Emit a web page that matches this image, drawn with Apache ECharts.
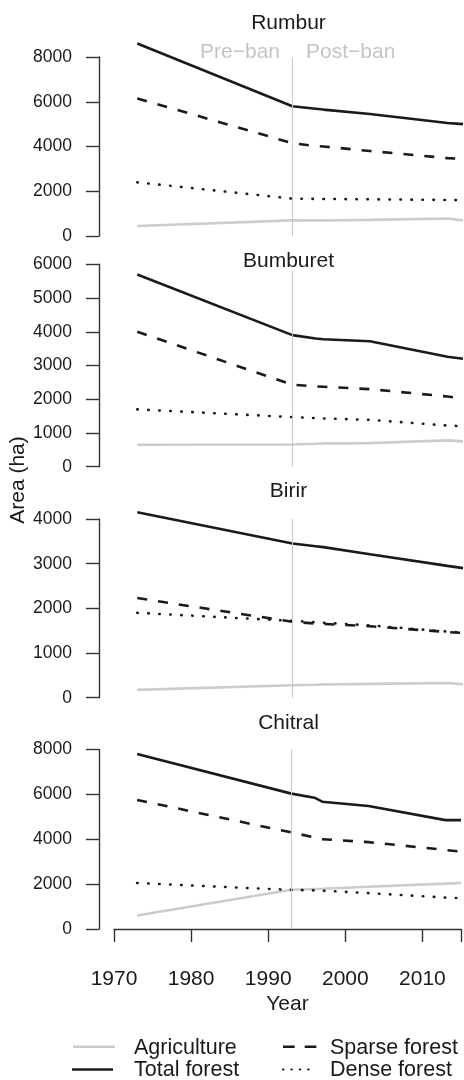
<!DOCTYPE html>
<html>
<head>
<meta charset="utf-8">
<title>Land cover by valley</title>
<script src="https://cdn.jsdelivr.net/npm/echarts@6/dist/echarts.min.js"></script>
<style>
html, body { margin: 0; padding: 0; background: #fff; }
#chart { width: 464px; height: 1080px; }
</style>
</head>
<body>
<div id="chart"></div>
<script>
// survey years, shared by all panels
var years = [1973, 1993, 1996, 1997, 2003, 2013, 2015];
var banYear = 1993;
var panels = ['Rumbur', 'Bumburet', 'Birir', 'Chitral'];
var yMax = [8000, 6000, 4000, 8000];
var yStep = [2000, 1000, 1000, 2000];
var banTop = [7950, 5800, 4000, 8000];

// area (ha) per panel, same order as panels
var agriculture = [
	[450, 700, 690, 690, 720, 780, 700],
	[650, 660, 680, 690, 700, 780, 750],
	[175, 280, 290, 295, 310, 330, 300],
	[600, 1750, 1780, 1790, 1880, 2020, 2050]
];
var totalForest = [
	[8600, 5800, 5690, 5650, 5450, 5050, 5000],
	[5700, 3900, 3800, 3780, 3720, 3260, 3200],
	[4150, 3450, 3390, 3370, 3210, 2950, 2900],
	[7800, 6030, 5850, 5670, 5480, 4850, 4850]
];
var sparseForest = [
	[6150, 4150, 4020, 4000, 3800, 3480, 3450],
	[4000, 2430, 2380, 2370, 2300, 2080, 2020],
	[2230, 1700, 1660, 1650, 1600, 1470, 1450],
	[5750, 4300, 4080, 4000, 3870, 3520, 3450]
];
var denseForest = [
	[2400, 1670, 1660, 1655, 1640, 1610, 1600],
	[1700, 1470, 1440, 1430, 1390, 1220, 1200],
	[1900, 1720, 1690, 1680, 1620, 1480, 1460],
	[2050, 1740, 1720, 1710, 1600, 1400, 1370]
];

var FONT = 'Liberation Sans, Arial, Helvetica, sans-serif';
var INK = '#1a1a1a';
var GREY = '#cccccc';
var gridTop = [57, 264.3, 519, 749.4];
var gridHeight = [179, 202.4, 178.7, 179.6];

function pairs(vals) {
	var out = [];
	for (var i = 0; i < years.length; i++) {
		out.push([years[i], vals[i]]);
	}
	return out;
}

var chart = echarts.init(document.getElementById('chart'));
var grids = [], xAxes = [], yAxes = [], series = [], texts = [];

for (var p = 0; p < panels.length; p++) {
	var last = p === panels.length - 1;
	grids.push({ left: 114, width: 349, top: gridTop[p], height: gridHeight[p] });
	xAxes.push({
		type: 'value', gridIndex: p, min: 1970, max: 2015, interval: 10,
		show: last, offset: 8,
		name: last ? 'Year' : '', nameLocation: 'middle', nameGap: 57,
		nameTextStyle: { fontFamily: FONT, fontSize: 21, color: INK },
		axisLine: { show: true, lineStyle: { color: '#333', width: 1.4 } },
		axisTick: { show: true, length: 13, lineStyle: { color: '#333', width: 1.4 } },
		axisLabel: {
			fontFamily: FONT, fontSize: 21, color: INK, margin: 32,
			formatter: function (v) { return v % 10 === 0 ? String(v) : ''; }
		},
		splitLine: { show: false }
	});
	yAxes.push({
		type: 'value', gridIndex: p, min: 0, max: yMax[p], interval: yStep[p],
		offset: 15,
		axisLine: { show: true, lineStyle: { color: '#333', width: 1.4 } },
		axisTick: { show: true, length: 13, lineStyle: { color: '#333', width: 1.4 } },
		axisLabel: {
			fontFamily: FONT, fontSize: 17.5, color: INK, margin: 27,
			formatter: function (v) { return String(v); }
		},
		splitLine: { show: false }
	});

	series.push({
		name: 'Agriculture', type: 'line', xAxisIndex: p, yAxisIndex: p,
		data: pairs(agriculture[p]), symbol: 'none', clip: false, z: 2,
		lineStyle: { color: GREY, width: 2.6 }, itemStyle: { color: GREY },
		markLine: {
			silent: true, symbol: ['none', 'none'], label: { show: false },
			lineStyle: { color: '#c8c8c8', width: 1, type: 'solid' },
			emphasis: { disabled: true },
			data: [[{ coord: [banYear, 0] }, { coord: [banYear, banTop[p]] }]]
		}
	});
	series.push({
		name: 'Total forest', type: 'line', xAxisIndex: p, yAxisIndex: p,
		data: pairs(totalForest[p]), symbol: 'none', clip: false, z: 3,
		lineStyle: { color: INK, width: 2.6 }, itemStyle: { color: INK }
	});
	series.push({
		name: 'Sparse forest', type: 'line', xAxisIndex: p, yAxisIndex: p,
		data: pairs(sparseForest[p]), symbol: 'none', clip: false, z: 3,
		lineStyle: { color: INK, width: 2.6, type: [10, 11] }, itemStyle: { color: INK }
	});
	series.push({
		name: 'Dense forest', type: 'line', xAxisIndex: p, yAxisIndex: p,
		data: pairs(denseForest[p]), symbol: 'none', clip: false, z: 3,
		lineStyle: { color: INK, width: 2.6, type: [0.5, 10.5], cap: 'round' }, itemStyle: { color: INK }
	});
}

// panel titles
var titleY = [23, 261, 491.5, 723.5];
for (var t = 0; t < panels.length; t++) {
	texts.push({
		type: 'text', x: 288.5, y: titleY[t], silent: true,
		style: { text: panels[t], fill: INK, font: '21px ' + FONT, align: 'center', verticalAlign: 'middle' }
	});
}
texts.push({
	type: 'text', x: 280, y: 52.5, silent: true,
	style: { text: 'Pre\u2212ban', fill: '#c4c4c4', font: '21px ' + FONT, align: 'right', verticalAlign: 'middle' }
});
texts.push({
	type: 'text', x: 306, y: 52.5, silent: true,
	style: { text: 'Post\u2212ban', fill: '#c4c4c4', font: '21px ' + FONT, align: 'left', verticalAlign: 'middle' }
});
texts.push({
	type: 'text', x: 18, y: 480, rotation: Math.PI / 2, silent: true,
	style: { text: 'Area (ha)', fill: INK, font: '21px ' + FONT, align: 'center', verticalAlign: 'middle' }
});

// legend, two columns
var legendRows = [
	{ name: 'Agriculture', x1: 73, x2: 115, tx: 134, y: 1046.7, color: GREY, dash: null, cap: 'butt', w: 2.6 },
	{ name: 'Total forest', x1: 72, x2: 113, tx: 134, y: 1069.5, color: INK, dash: null, cap: 'butt', w: 2.6 },
	{ name: 'Sparse forest', x1: 283, x2: 317, tx: 330, y: 1046.7, color: INK, dash: [11.7, 10], cap: 'butt', w: 2.4 },
	{ name: 'Dense forest', x1: 283, x2: 313, tx: 330, y: 1069.5, color: INK, dash: [0.4, 8], cap: 'round', w: 2.2 }
];
for (var k = 0; k < legendRows.length; k++) {
	var r = legendRows[k];
	texts.push({
		type: 'line', silent: true,
		shape: { x1: r.x1, y1: r.y, x2: r.x2, y2: r.y },
		style: { stroke: r.color, lineWidth: r.w, lineDash: r.dash, lineCap: r.cap }
	});
	texts.push({
		type: 'text', x: r.tx, y: r.y + 1, silent: true,
		style: { text: r.name, fill: INK, font: '21.5px ' + FONT, align: 'left', verticalAlign: 'middle' }
	});
}

var option = {
	animation: false,
	grid: grids,
	xAxis: xAxes,
	yAxis: yAxes,
	graphic: texts,
	series: series
};
chart.setOption(option);
</script>
</body>
</html>
